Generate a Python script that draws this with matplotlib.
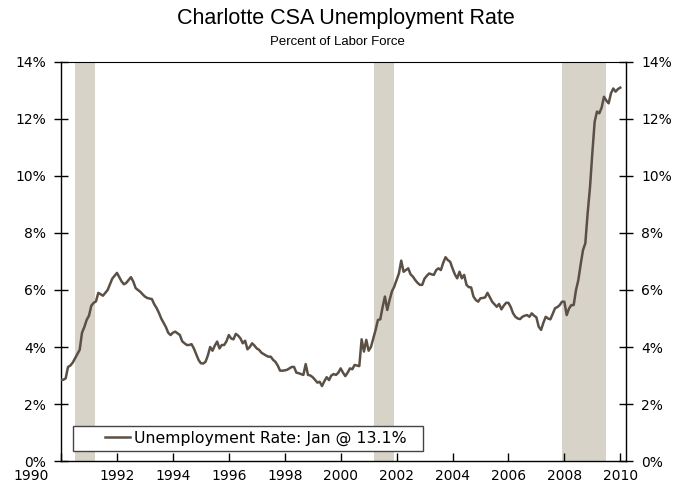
import numpy as np
import pandas as pd
import matplotlib
matplotlib.use("Agg")
import matplotlib.pyplot as plt
import matplotlib.transforms as mtransforms
from matplotlib.patches import Rectangle
from matplotlib.ticker import FuncFormatter

# monthly unemployment rate, Jan 1990 .. Jan 2010 (percent)
rate_1990 = [2.85, 2.85, 2.9, 3.3, 3.35, 3.45, 3.6, 3.75, 3.9, 4.5, 4.7, 4.95]
rate_1991 = [5.1, 5.45, 5.55, 5.6, 5.9, 5.85, 5.8, 5.9, 6.0, 6.2, 6.4, 6.5]
rate_1992 = [6.6, 6.45, 6.3, 6.2, 6.25, 6.35, 6.45, 6.3, 6.07, 6.0, 5.94, 5.85]
rate_1993 = [5.77, 5.72, 5.7, 5.68, 5.5, 5.37, 5.2, 5.0, 4.85, 4.7, 4.5, 4.42]
rate_1994 = [4.5, 4.54, 4.48, 4.42, 4.2, 4.13, 4.07, 4.07, 4.1, 3.95, 3.75, 3.55]
rate_1995 = [3.43, 3.42, 3.48, 3.7, 4.0, 3.87, 4.05, 4.19, 3.95, 4.07, 4.07, 4.2]
rate_1996 = [4.42, 4.3, 4.27, 4.46, 4.4, 4.3, 4.13, 4.22, 3.92, 4.0, 4.13, 4.05]
rate_1997 = [3.95, 3.9, 3.8, 3.75, 3.7, 3.66, 3.66, 3.55, 3.48, 3.35, 3.17, 3.17]
rate_1998 = [3.18, 3.2, 3.25, 3.3, 3.3, 3.1, 3.08, 3.05, 3.02, 3.4, 3.02, 3.0]
rate_1999 = [2.94, 2.85, 2.75, 2.78, 2.63, 2.8, 2.94, 2.84, 3.0, 3.05, 3.02, 3.1]
rate_2000 = [3.25, 3.1, 2.98, 3.1, 3.25, 3.22, 3.37, 3.35, 3.33, 4.27, 3.84, 4.25]
rate_2001 = [3.87, 4.0, 4.3, 4.6, 4.95, 4.97, 5.4, 5.77, 5.3, 5.65, 5.95, 6.12]
rate_2002 = [6.35, 6.58, 7.03, 6.64, 6.7, 6.76, 6.55, 6.47, 6.35, 6.25, 6.18, 6.18]
rate_2003 = [6.4, 6.5, 6.58, 6.55, 6.53, 6.7, 6.76, 6.7, 6.95, 7.15, 7.05, 6.99]
rate_2004 = [6.76, 6.55, 6.41, 6.64, 6.41, 6.53, 6.18, 6.1, 6.09, 5.77, 5.65, 5.59]
rate_2005 = [5.71, 5.72, 5.74, 5.9, 5.75, 5.59, 5.5, 5.41, 5.51, 5.32, 5.45, 5.55]
rate_2006 = [5.55, 5.4, 5.18, 5.06, 5.0, 4.98, 5.06, 5.1, 5.12, 5.06, 5.18, 5.1]
rate_2007 = [5.04, 4.71, 4.6, 4.85, 5.06, 5.0, 4.97, 5.16, 5.36, 5.4, 5.47, 5.59]
rate_2008 = [5.59, 5.12, 5.35, 5.47, 5.47, 6.0, 6.35, 6.9, 7.4, 7.64, 8.7, 9.6]
rate_2009 = [10.8, 11.9, 12.26, 12.2, 12.4, 12.78, 12.65, 12.55, 12.9, 13.07, 12.96, 13.05]
rate_2010 = [13.1]

# recessions (start, end) as decimal years
recessions = [(1990.5, 1991.2), (2001.18, 2001.92), (2007.92, 2009.5)]

x_ticks = list(range(1990, 2011, 2))
y_ticks = list(range(0, 15, 2))

rates = (rate_1990 + rate_1991 + rate_1992 + rate_1993 + rate_1994 + rate_1995
         + rate_1996 + rate_1997 + rate_1998 + rate_1999 + rate_2000 + rate_2001
         + rate_2002 + rate_2003 + rate_2004 + rate_2005 + rate_2006 + rate_2007
         + rate_2008 + rate_2009 + rate_2010)
data = pd.DataFrame({"rate": rates})
data["t"] = 1990 + np.arange(len(data)) / 12.0

line_color = "#5b5046"
shade_color = "#d7d3c8"

fig = plt.figure(figsize=(6.88, 4.92), dpi=100)
ax = fig.add_axes([0.0887, 0.063, 0.821, 0.811])

for start, end in recessions:
    ax.axvspan(start, end, color=shade_color, lw=0, zorder=0)

ax.plot(data["t"], data["rate"], color=line_color, lw=1.8,
        label="Unemployment Rate: Jan @ 13.1%", zorder=3)

ax.set_xlim(1990, 2010.2)
ax.set_ylim(0, 14)
ax.set_xticks(x_ticks)
ax.set_yticks(y_ticks)
ax.yaxis.set_major_formatter(FuncFormatter(lambda v, p: f"{v:.0f}%"))

ax.tick_params(axis="x", direction="in", length=6, width=1, labelsize=10, pad=6)
ax.tick_params(axis="y", direction="inout", length=10, width=1, labelsize=10,
               right=True, labelright=True, pad=6)
for s in ax.spines.values():
    s.set_linewidth(1)
    s.set_color("black")
ax.spines["top"].set_linewidth(0.8)

# first year label sits left of its tick in the original
first = ax.get_xticklabels()[0]
first.set_transform(first.get_transform()
                    + mtransforms.ScaledTranslation(-30 / 100, 0, fig.dpi_scale_trans))

# legend box drawn separately so the entry can sit inset
ax.add_patch(Rectangle((0.0212, 0.025), 0.619, 0.0627, transform=ax.transAxes,
                       facecolor="white", edgecolor="#444444", lw=1, zorder=4))
leg = ax.legend(loc="center left", bbox_to_anchor=(0.078, 0.0565), frameon=False,
                fontsize=11.3, handlelength=1.6, handletextpad=0.25,
                borderpad=0, borderaxespad=0)
leg.set_zorder(5)
for h in leg.get_lines():
    h.set_linewidth(1.8)

fig.text(0.502, 0.962, "Charlotte CSA Unemployment Rate", ha="center", va="center",
         fontsize=15.5, family=["Liberation Sans", "DejaVu Sans"])
fig.text(0.49, 0.914, "Percent of Labor Force", ha="center", va="center",
         fontsize=9.5, family=["Liberation Sans", "DejaVu Sans"])

fig.savefig("out.png", dpi=100)
